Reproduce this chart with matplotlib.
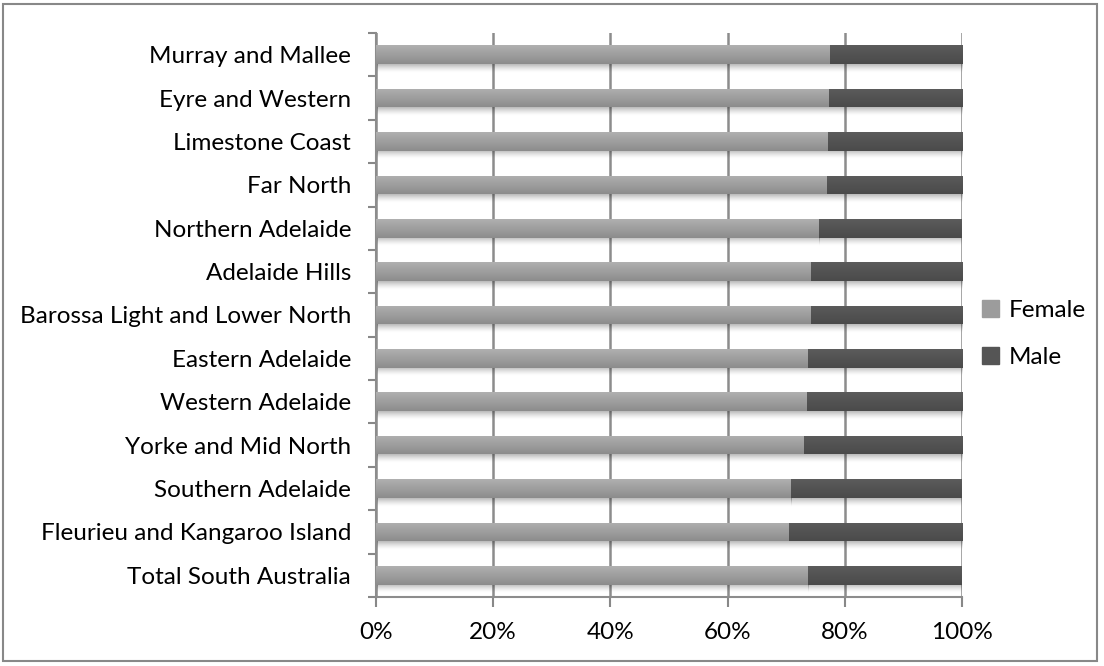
import matplotlib
matplotlib.use("Agg")
import matplotlib.pyplot as plt
import numpy as np
from matplotlib.patches import Rectangle
from matplotlib.ticker import PercentFormatter, FixedLocator

categories = ["Total South Australia", "Fleurieu and Kangaroo Island", "Southern Adelaide",
              "Yorke and Mid North", "Western Adelaide", "Eastern Adelaide",
              "Barossa Light and Lower North", "Adelaide Hills", "Northern Adelaide",
              "Far North", "Limestone Coast", "Eyre and Western", "Murray and Mallee"]
female = [73.8, 70.4, 70.9, 73.0, 73.5, 73.7, 74.2, 74.2, 75.6, 76.9, 77.1, 77.3, 77.4]
male = [100 - f for f in female]
xticks = [0, 20, 40, 60, 80, 100]

plt.rcParams['font.family'] = ['Lato', 'DejaVu Sans']
FS = 17.5

fig = plt.figure(figsize=(11.04, 6.66), dpi=100)
ax = fig.add_axes([376/1104, 1 - 597/666, (962-376)/1104, (597-33)/666])

y = np.arange(len(categories))
h = 0.43
fb = ax.barh(y, female, height=h, color="#999999", label="Female", zorder=3)
mb = ax.barh(y, male, left=female, height=h, color="#555555", label="Male", zorder=3)

def grad(bars, top, bot):
    g = np.linspace(0, 1, 50).reshape(-1, 1)
    for p in bars:
        x0, y0 = p.get_x(), p.get_y()
        w, hh = p.get_width(), p.get_height()
        cols = np.array(top)[None, :] * (1 - g) + np.array(bot)[None, :] * g
        img = np.repeat(cols[:, None, :], 2, axis=1)
        im = ax.imshow(img, extent=[x0, x0 + w, y0, y0 + hh], aspect='auto', zorder=4,
                       origin='upper', interpolation='bilinear')
        im.set_clip_path(p)

def shadow(bars):
    g = np.linspace(0, 1, 50).reshape(-1, 1)
    for p in bars:
        x0, y0 = p.get_x(), p.get_y()
        w = p.get_width()
        a = (1 - g) ** 1.5 * 0.28
        img = np.zeros((50, 2, 4))
        img[..., 3] = np.repeat(a, 2, axis=1)
        ax.imshow(img, extent=[x0, x0 + w, y0 - 0.2, y0], aspect='auto', zorder=2,
                  origin='upper', interpolation='bilinear')

shadow(fb)
shadow(mb)
grad(fb, (0.69, 0.69, 0.69), (0.55, 0.55, 0.55))
grad(mb, (0.36, 0.36, 0.36), (0.29, 0.29, 0.29))

ax.set_xlim(0, 100)
ax.set_ylim(-0.5, len(categories) - 0.5)
ax.set_xticks(xticks)
ax.xaxis.set_major_formatter(PercentFormatter(decimals=0))
ax.set_yticks(y)
ax.set_yticklabels(categories)
ax.yaxis.set_minor_locator(FixedLocator(np.arange(-0.5, len(categories), 1)))
ax.tick_params(axis='y', which='major', length=0, pad=18, labelsize=FS, labelcolor='#000000')
ax.tick_params(axis='y', which='minor', length=6, color='#888888', width=1.5)
ax.tick_params(axis='x', length=7, color='#888888', width=1.5, pad=11, labelsize=FS, labelcolor='#000000')
ax.grid(axis='x', color='#8c8c8c', linewidth=1.8, zorder=0)
ax.set_axisbelow(True)
for s in ['top', 'right']:
    ax.spines[s].set_visible(False)
for s in ['left', 'bottom']:
    ax.spines[s].set_color('#8c8c8c')
    ax.spines[s].set_linewidth(1.5)

handles = [Rectangle((0, 0), 1, 1, color="#9c9c9c"), Rectangle((0, 0), 1, 1, color="#555555")]
fig.legend(handles, ["Female", "Male"], loc='center left', bbox_to_anchor=(960/1104, 1 - 334/666),
           frameon=False, fontsize=FS, handlelength=0.7, handleheight=0.7, handletextpad=0.4,
           labelspacing=1.1)

fig.patches.append(Rectangle((3/1104, 1 - 661/666), 1094/1104, 657/666, transform=fig.transFigure,
                             fill=False, edgecolor='#888888', linewidth=1.5))
fig.savefig("out.png", dpi=100)
